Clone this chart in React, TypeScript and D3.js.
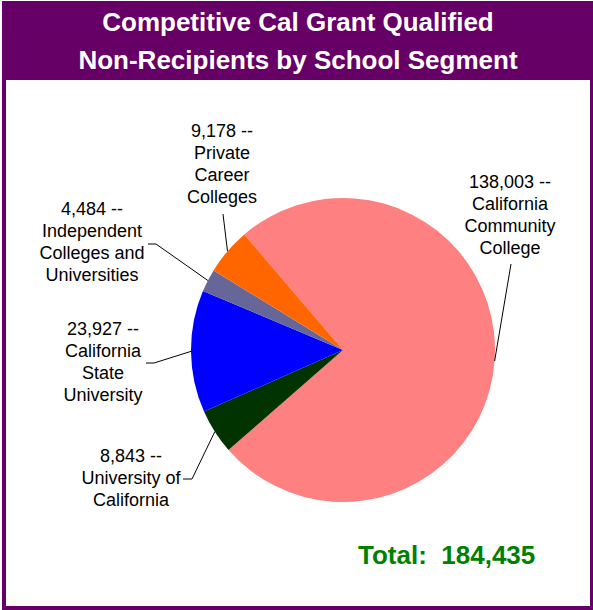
import React from "react";
import * as d3 from "d3";

const categories = [
  "California Community College",
  "University of California",
  "California State University",
  "Independent Colleges and Universities",
  "Private Career Colleges",
];
const values = [138003, 8843, 23927, 4484, 9178];
const valueLabels = ["138,003 --", "8,843 --", "23,927 --", "4,484 --", "9,178 --"];
const labelLines = [
  ["California", "Community", "College"],
  ["University of", "California"],
  ["California", "State", "University"],
  ["Independent", "Colleges and", "Universities"],
  ["Private", "Career", "Colleges"],
];
const colors = ["#FF8080", "#003300", "#0000FF", "#666699", "#FF6600"];
const titleLines = ["Competitive Cal Grant Qualified", "Non-Recipients by School Segment"];
const totalText = "Total:  184,435";

// layout: label anchor (center x, first baseline y) and leader start points
const labelPos = [
  { x: 510, y: 188 },
  { x: 131, y: 462 },
  { x: 103, y: 335 },
  { x: 92, y: 215 },
  { x: 222, y: 137 },
];
const leaderStart: [number, number][][] = [
  [[511, 264]],
  [[183, 479], [192, 479]],
  [[146, 363], [154, 363]],
  [[148, 244], [156, 244]],
  [[223, 214]],
];

const W = 593;
const H = 610;
const cx = 343;
const cy = 350;
const R = 152;
const startDeg = -40.5;
const FONT = "'Liberation Sans', Arial, Helvetica, sans-serif";

export default function App() {
  const pie = d3
    .pie<number>()
    .sort(null)
    .value((d) => d)
    .startAngle((startDeg * Math.PI) / 180)
    .endAngle((startDeg * Math.PI) / 180 + 2 * Math.PI);
  const arcs = pie(values);
  const arcGen = d3.arc<d3.PieArcDatum<number>>().innerRadius(0).outerRadius(R);
  const line = d3.line();

  return (
    <svg
      width={W}
      height={H}
      style={{ position: "absolute", left: 0, top: 0, background: "#fff" }}
      fontFamily={FONT}
    >
      <rect x={0} y={0} width={W} height={H} fill="#fff" />
      <rect x={2} y={1} width={W - 2} height={79} fill="#660066" />
      <rect x={4} y={3} width={W - 5} height={H - 5} fill="none" stroke="#660066" strokeWidth={4} />
      {titleLines.map((t, i) => (
        <text
          key={i}
          x={298}
          y={31 + i * 38}
          textAnchor="middle"
          fill="#fff"
          fontWeight="bold"
          fontSize={26}
        >
          {t}
        </text>
      ))}
      <g transform={`translate(${cx},${cy})`}>
        {arcs.map((a, i) => (
          <path key={categories[i]} d={arcGen(a) || ""} fill={colors[i]} />
        ))}
      </g>
      {arcs.map((a, i) => {
        const mid = (a.startAngle + a.endAngle) / 2;
        const ax = cx + R * Math.sin(mid);
        const ay = cy - R * Math.cos(mid);
        const pts: [number, number][] = [...leaderStart[i], [ax, ay]];
        return (
          <path key={"l" + i} d={line(pts) || ""} fill="none" stroke="#000" strokeWidth={1} />
        );
      })}
      {labelLines.map((lines, i) => (
        <text key={"t" + i} textAnchor="middle" fontSize={18} fill="#000">
          {[valueLabels[i], ...lines].map((s, j) => (
            <tspan key={j} x={labelPos[i].x} y={labelPos[i].y + j * 22}>
              {s}
            </tspan>
          ))}
        </text>
      ))}
      <text x={358} y={564} fontSize={26} fontWeight="bold" fill="#008000" xmlSpace="preserve">
        {totalText}
      </text>
    </svg>
  );
}
